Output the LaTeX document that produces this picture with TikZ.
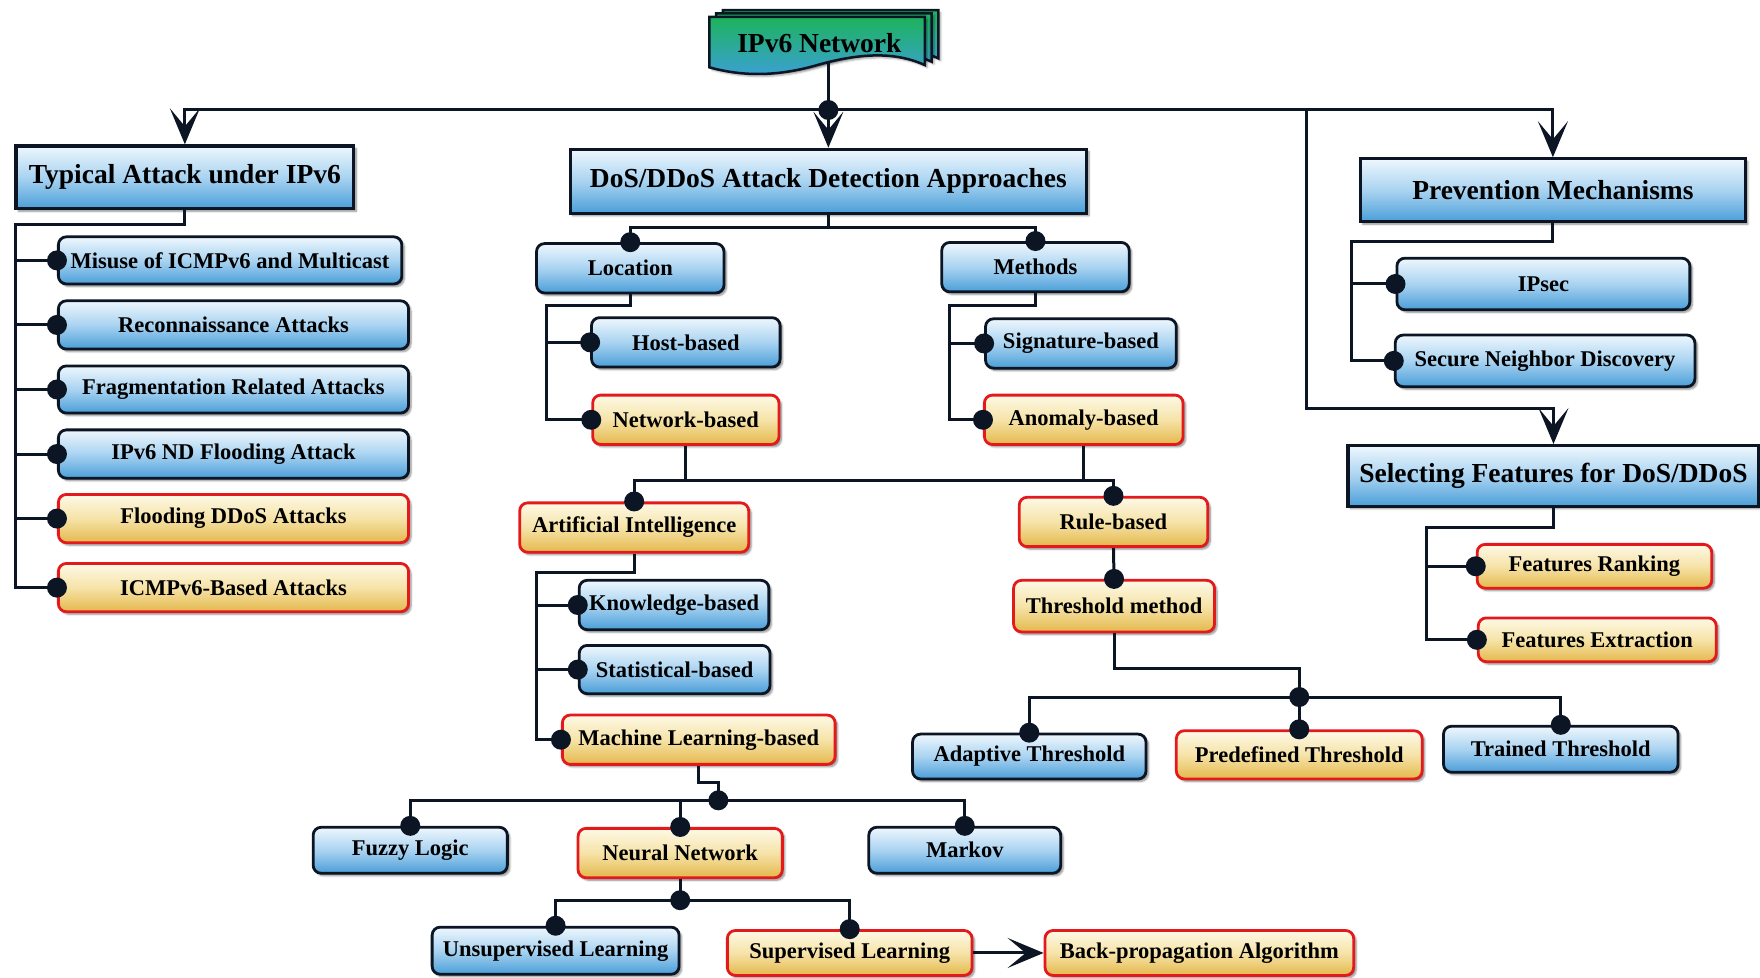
\documentclass[tikz,border=0pt]{standalone}
\usepackage{fontspec}
\setmainfont{Liberation Serif}
\usetikzlibrary{arrows.meta,shadows.blur,calc}

\definecolor{navy}{HTML}{0B1524}
\definecolor{bluetop}{HTML}{EEF7FD}
\definecolor{bluemid}{HTML}{A9D3F1}
\definecolor{bluebot}{HTML}{4A9ED8}
\definecolor{yeltop}{HTML}{FDF9E6}
\definecolor{yelmid}{HTML}{F6E3A8}
\definecolor{yelbot}{HTML}{E4B84C}
\definecolor{redb}{HTML}{E3191C}
\definecolor{titletop}{HTML}{1DB35C}
\definecolor{titlebot}{HTML}{3C9FDA}

\newcommand\sbfont{\fontsize{22.5}{26}\selectfont\bfseries}
\newcommand\hdfont{\fontsize{27.5}{31}\selectfont\bfseries}

\begin{document}
\begin{tikzpicture}[x=1.1224pt,y=-1.1224pt,
  sz/.style 2 args={minimum width=#1*1.1224pt, minimum height=#2*1.1224pt},
  box/.style={draw=navy, line width=2.8pt, inner sep=0pt, align=center,
    text=black, font=\sbfont,
    blur shadow={shadow xshift=2.5pt, shadow yshift=-2.5pt,
      shadow blur steps=6, shadow opacity=45}},
  hd/.style={box, rectangle, line width=3.2pt, top color=bluetop,
    bottom color=bluebot, middle color=bluemid, font=\hdfont},
  bb/.style={box, rounded corners=8pt, top color=bluetop,
    bottom color=bluebot, middle color=bluemid},
  yb/.style={box, rounded corners=8pt, draw=redb, top color=yeltop,
    bottom color=yelbot, middle color=yelmid},
  conn/.style={draw=navy, line width=3pt},
  arr/.style={conn, -{Stealth[length=36pt,width=30pt,inset=18pt]}},
]
\useasboundingbox (0,0) rectangle (1568,871);

% ---- title: stacked documents with a wavy lower edge ----
\foreach \dx/\dy in {12/-6, 6/-3, 0/0}{
  \path[draw=navy, line width=2.5pt, top color=titletop, bottom color=titlebot,
        blur shadow={shadow xshift=2.5pt, shadow yshift=-2.5pt, shadow opacity=35},
        shift={(\dx,\dy)}]
    (632,15) -- (824,15) -- (824,58)
    .. controls (800,47) and (770,46) .. (728,58)
    .. controls (700,66) and (668,70) .. (632,60) -- cycle;
}
\node[font=\hdfont] (net) at (730,38) {IPv6 Network};
\coordinate (netb) at (738,56);

% ---- main headings ----
\node[hd, sz={301}{56}] (typ)  at (164.7,158)  {Typical Attack under IPv6};
\node[hd, sz={460}{57}] (dos)  at (738,161.5)  {DoS/DDoS Attack Detection Approaches};
\node[hd, sz={343}{56}] (prev) at (1383.5,169.5) {Prevention Mechanisms};
\node[hd, sz={366}{54}] (sel)  at (1384,424)   {Selecting Features for DoS/DDoS};

% ---- typical attacks ----
\node[bb, sz={306}{42}] (misuse) at (205,232)   {Misuse of ICMPv6 and Multicast};
\node[bb, sz={312}{43}] (recon)  at (208,289.5) {Reconnaissance Attacks};
\node[bb, sz={312}{42}] (frag)   at (208,347)   {Fragmentation Related Attacks};
\node[bb, sz={312}{43}] (nd)     at (208,404.5) {IPv6 ND Flooding Attack};
\node[yb, sz={312}{43}] (flood)  at (208,462)   {Flooding DDoS Attacks};
\node[yb, sz={312}{43}] (icmp)   at (208,523.5) {ICMPv6-Based Attacks};

% ---- detection approaches ----
\node[bb, sz={167}{44}] (loc)    at (561.5,239) {Location};
\node[bb, sz={167}{44}] (meth)   at (922.5,238) {Methods};
\node[bb, sz={168}{44}] (host)   at (611,305)   {Host-based};
\node[yb, sz={166}{44}] (nbased) at (611,374)   {Network-based};
\node[bb, sz={170}{44}] (sig)    at (963,306)   {Signature-based};
\node[yb, sz={177}{44}] (abased) at (965.5,374) {Anomaly-based};
\node[yb, sz={204}{44}] (ai)     at (565,470)   {Artificial Intelligence};
\node[yb, sz={168}{44}] (rule)   at (992,465)   {Rule-based};
\node[yb, sz={179}{46}] (thr)    at (992.5,540) {Threshold method};
\node[bb, sz={169}{44}] (know)   at (600.5,539) {Knowledge-based};
\node[bb, sz={170}{43}] (stat)   at (601,596.5) {Statistical-based};
\node[yb, sz={243}{44}] (ml)     at (622.5,659) {Machine Learning-based};
\node[bb, sz={208}{40}] (adap)   at (917,674)   {Adaptive Threshold};
\node[yb, sz={219}{43}] (pre)    at (1157.5,672.5) {Predefined Threshold};
\node[bb, sz={209}{41}] (trn)    at (1390.5,667.5) {Trained Threshold};
\node[bb, sz={173}{41}] (fuz)    at (365.5,757.5) {Fuzzy Logic};
\node[yb, sz={182}{44}] (neu)    at (606,760)   {Neural Network};
\node[bb, sz={171}{41}] (mar)    at (859.5,757.5) {Markov};
\node[bb, sz={220}{42}] (uns)    at (495,847)   {Unsupervised Learning};
\node[yb, sz={218}{40}] (sup)    at (757,849)   {Supervised Learning};
\node[yb, sz={275}{40}] (bp)     at (1068.5,849) {Back-propagation Algorithm};

% ---- prevention and features ----
\node[bb, sz={261}{46}] (ipsec) at (1375,253)    {IPsec};
\node[bb, sz={267}{46}] (snd)   at (1376.5,321.5) {Secure Neighbor Discovery};
\node[yb, sz={209}{39}] (frank) at (1420.5,504.5) {Features Ranking};
\node[yb, sz={212}{39}] (fext)  at (1423,570)     {Features Extraction};

% ---- junction points ----
\coordinate (hub) at (738,98);
\coordinate (br)  at (1164,363.5);
\coordinate (lt)  at (14,200);
\coordinate (dst) at (738,203);
\coordinate (lct) at (487,272);
\coordinate (mtt) at (846,272);
\coordinate (mid) at (780,428);
\coordinate (ait) at (478,510);
\coordinate (thk) at (992.5,596);
\coordinate (thj) at (1157.5,621);
\coordinate (mlk) at (622.5,697);
\coordinate (mlj) at (640,713);
\coordinate (nnj) at (606,802);
\coordinate (pvt) at (1204,215.6);
\coordinate (sft) at (1271,470);

% ---- top level ----
\draw[conn] (netb) -- (hub);
\draw[arr] (hub) -| (typ.north);
\draw[arr] (hub) -| (prev.north);
\draw[arr] (hub) -- (dos.north);
\draw[arr] (hub -| br) -- (br) -| (sel.north);

% ---- typical attacks tree ----
\draw[conn] (typ.south) |- (lt) -- (lt |- icmp.west) -- (icmp.west);
\foreach \n in {misuse,recon,frag,nd,flood}
  \draw[conn] (lt |- \n.west) -- (\n.west);

% ---- detection tree ----
\draw[conn] (dos.south) -- (dst);
\draw[conn] (loc.north) |- (dst) -| (meth.north);
\draw[conn] (loc.south) |- (lct) -- (lct |- nbased.west) -- (nbased.west);
\draw[conn] (lct |- host.west) -- (host.west);
\draw[conn] (meth.south) |- (mtt) -- (mtt |- abased.west) -- (abased.west);
\draw[conn] (mtt |- sig.west) -- (sig.west);
\draw[conn] (nbased.south) -- (nbased.south |- mid);
\draw[conn] (abased.south) -- (abased.south |- mid);
\draw[conn] (ai.north) |- (mid) -| (rule.north);
\draw[conn] (rule.south) -- (thr.north);
\draw[conn] (thr.south) -- (thk) -| (thj);
\draw[conn] (adap.north) |- (thj) -| (trn.north);
\draw[conn] (thj) -- (pre.north);
\draw[conn] (ai.south) |- (ait) -- (ait |- ml.west) -- (ml.west);
\draw[conn] (ait |- know.west) -- (know.west);
\draw[conn] (ait |- stat.west) -- (stat.west);
\draw[conn] (ml.south) -- (mlk) -| (mlj);
\draw[conn] (fuz.north) |- (mlj) -| (mar.north);
\draw[conn] (neu.north) -- (neu.north |- mlj);
\draw[conn] (neu.south) -- (nnj);
\draw[conn] (uns.north) |- (nnj) -| (sup.north);
\draw[arr] (sup.east) -- (bp.west);

% ---- prevention and features trees ----
\draw[conn] (prev.south) |- (pvt) -- (pvt |- snd.west) -- (snd.west);
\draw[conn] (pvt |- ipsec.west) -- (ipsec.west);
\draw[conn] (sel.south) |- (sft) -- (sft |- fext.west) -- (fext.west);
\draw[conn] (sft |- frank.west) -- (frank.west);

% ---- connection dots ----
\foreach \p in {hub, misuse.west, recon.west, frag.west, nd.west, flood.west,
  icmp.west, loc.north, meth.north, host.west, nbased.west, sig.west,
  abased.west, ai.north, rule.north, thr.north, know.west, stat.west, ml.west,
  thj, adap.north, pre.north, trn.north, mlj, fuz.north, neu.north, mar.north,
  nnj, uns.north, sup.north, ipsec.west, snd.west, frank.west, fext.west}
  \fill[navy] (\p) circle (10pt);
\end{tikzpicture}
\end{document}
